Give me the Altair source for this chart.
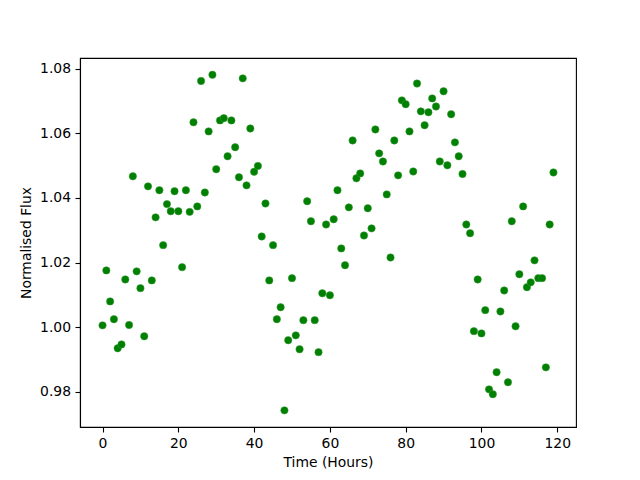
import altair as alt
import pandas as pd

hours = list(range(120))
flux = [
    1.0006, 1.0176, 1.0080, 1.0025, 0.9935, 0.9947, 1.0148, 1.0007, 1.0467, 1.0173,
    1.0121, 0.9972, 1.0436, 1.0145, 1.0340, 1.0424, 1.0254, 1.0381, 1.0359, 1.0421,
    1.0359, 1.0186, 1.0424, 1.0357, 1.0634, 1.0374, 1.0762, 1.0417, 1.0606, 1.0781,
    1.0489, 1.0640, 1.0647, 1.0529, 1.0640, 1.0557, 1.0464, 1.0770, 1.0439, 1.0615,
    1.0481, 1.0499, 1.0281, 1.0383, 1.0145, 1.0254, 1.0025, 1.0062, 0.9743, 0.9960,
    1.0152, 0.9975, 0.9932, 1.0022, 1.0390, 1.0328, 1.0022, 0.9923, 1.0105, 1.0318,
    1.0099, 1.0334, 1.0424, 1.0244, 1.0192, 1.0371, 1.0578, 1.0461, 1.0476, 1.0284,
    1.0368, 1.0306, 1.0612, 1.0538, 1.0513, 1.0411, 1.0216, 1.0578, 1.0470, 1.0702,
    1.0690, 1.0606, 1.0482, 1.0754, 1.0668, 1.0625, 1.0665, 1.0708, 1.0683, 1.0513,
    1.0730, 1.0501, 1.0659, 1.0572, 1.0529, 1.0474, 1.0318, 1.0291, 0.9988, 1.0148,
    0.9981, 1.0053, 0.9808, 0.9793, 0.9861, 1.0049, 1.0114, 0.9830, 1.0328, 1.0003,
    1.0164, 1.0374, 1.0124, 1.0139, 1.0207, 1.0152, 1.0152, 0.9876, 1.0318, 1.0479,
]
x_ticks = [0, 20, 40, 60, 80, 100, 120]
y_ticks = [0.98, 1.00, 1.02, 1.04, 1.06, 1.08]

df = pd.DataFrame({"hours": hours, "flux": flux})

FONT = "DejaVu Sans"

chart = alt.Chart(df).mark_point(
    filled=True, size=55, color="#008000", opacity=1,
    stroke="#3a9a3a", strokeWidth=0.5,
).encode(
    x=alt.X("hours:Q",
            scale=alt.Scale(domain=[-5.95, 124.95], nice=False, zero=False),
            axis=alt.Axis(title="Time (Hours)", values=x_ticks, format="d")),
    y=alt.Y("flux:Q",
            scale=alt.Scale(domain=[0.96915, 1.0833], nice=False, zero=False),
            axis=alt.Axis(title="Normalised Flux", values=y_ticks, format=".2f")),
).properties(
    width=496, height=369,
    autosize=alt.AutoSizeParams(type="none"),
    padding={"left": 72, "top": 50, "right": 56, "bottom": 45},
).configure_view(
    stroke="black", strokeWidth=1.1,
).configure_axis(
    grid=False, domainColor="black", domainWidth=1.1,
    tickColor="black", tickSize=5, tickWidth=1.1,
    labelFont=FONT, labelFontSize=13.9, labelColor="black", labelPadding=4.5,
    titleFont=FONT, titleFontSize=13.9, titleColor="black", titleFontWeight="normal",
).configure_axisX(titlePadding=5).configure_axisY(titlePadding=6)

chart.save("out.html", embed_options={"renderer": "svg", "actions": False})
